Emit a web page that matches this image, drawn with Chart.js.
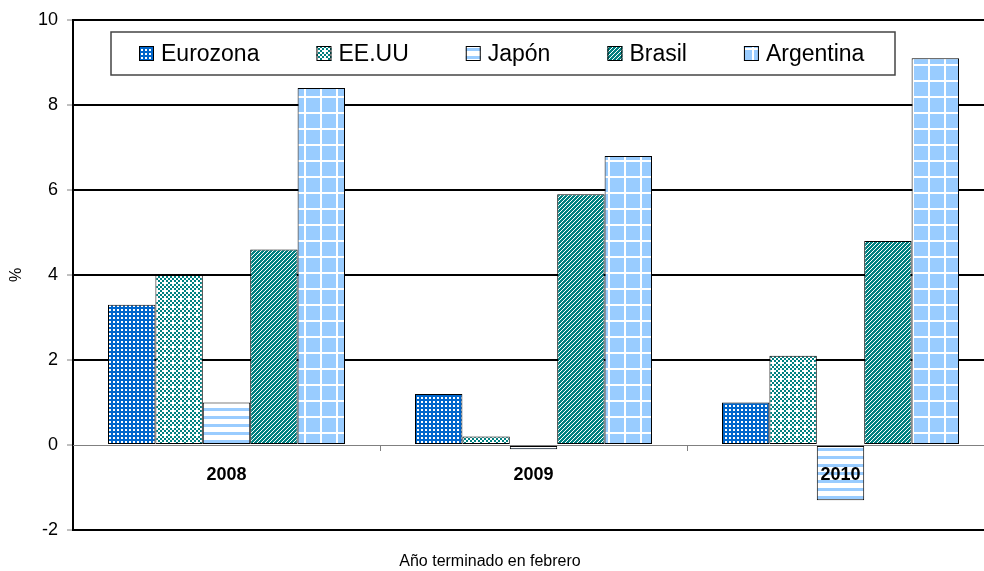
<!DOCTYPE html>
<html>
<head>
<meta charset="utf-8">
<script src="https://cdn.jsdelivr.net/npm/chart.js@4/dist/chart.umd.min.js"></script>
<style>
    html, body { margin: 0; padding: 0; overflow: hidden; background: #fff; }
    #wrap { width: 1010px; height: 571px; position: relative; }
</style>
</head>
<body>
<div id="wrap"><canvas id="inflacion"></canvas></div>
<script>
const years = ["2008", "2009", "2010"];
const eurozona = [3.3, 1.2, 1.0];
const eeuu = [4.0, 0.2, 2.1];
const japon = [1.0, -0.1, -1.3];
const brasil = [4.6, 5.9, 4.8];
const argentina = [8.4, 6.8, 9.1];
const yTicks = [-2, 0, 2, 4, 6, 8, 10];

const FONT = "'Liberation Sans', Arial, sans-serif";
const BLUE = "#0066CC";
const TEAL = "#008080";
const LIGHT = "#99CCFF";

function makePattern(size, draw) {
    const c = document.createElement("canvas");
    c.width = size;
    c.height = size;
    const g = c.getContext("2d");
    draw(g, size);
    return g.createPattern(c, "repeat");
}

// small white dots on blue
const dotsBlue = makePattern(4, function (g) {
    g.fillStyle = BLUE;
    g.fillRect(0, 0, 4, 4);
    g.fillStyle = "#fff";
    g.fillRect(1, 1, 2, 2);
});

// teal/white checker with a white plus every tile
const checkTeal = makePattern(8, function (g) {
    g.fillStyle = "#fff";
    g.fillRect(0, 0, 8, 8);
    g.fillStyle = TEAL;
    for (let i = 0; i < 4; i++) {
        for (let j = 0; j < 4; j++) {
            if ((i + j) % 2 === 1 && !(i === 2 && j === 1)) g.fillRect(i * 2, j * 2, 2, 2);
        }
    }
});

// light blue horizontal bands on white
const bandsLight = makePattern(8, function (g) {
    g.fillStyle = "#fff";
    g.fillRect(0, 0, 8, 8);
    g.fillStyle = LIGHT;
    g.fillRect(0, 0, 8, 3);
});

// thin white "/" diagonals on teal
const diagTeal = makePattern(4, function (g) {
    g.fillStyle = TEAL;
    g.fillRect(0, 0, 4, 4);
    g.fillStyle = "#fff";
    for (let k = 0; k < 4; k++) g.fillRect(3 - k, k, 1, 1);
});

// white grid on light blue
const gridLight = makePattern(16, function (g) {
    g.fillStyle = LIGHT;
    g.fillRect(0, 0, 16, 16);
    g.fillStyle = "#fff";
    g.fillRect(0, 0, 16, 2);
    g.fillRect(0, 0, 2, 16);
});

function series(label, data, fill) {
    return {
        label: label,
        data: data,
        backgroundColor: fill,
        borderColor: "#000",
        borderWidth: 1,
        borderSkipped: false,
        categoryPercentage: 0.772,
        barPercentage: 1.0
    };
}

// legend box inside the plot + x axis caption under the chart
const boxLegend = {
    id: "boxLegend",
    afterDraw: function (chart) {
        const ctx = chart.ctx;
        ctx.save();

        ctx.fillStyle = "#fff";
        ctx.fillRect(111, 32, 784, 43);
        ctx.strokeStyle = "#444";
        ctx.lineWidth = 1.5;
        ctx.strokeRect(111, 32, 784, 43);

        ctx.font = "23px " + FONT;
        ctx.textBaseline = "middle";
        ctx.textAlign = "left";
        let x = 139;
        chart.data.datasets.forEach(function (ds) {
            ctx.fillStyle = ds.backgroundColor;
            ctx.fillRect(x, 46, 15, 15);
            ctx.strokeStyle = "#000";
            ctx.lineWidth = 1;
            ctx.strokeRect(x + 0.5, 46.5, 14, 14);
            ctx.fillStyle = "#000";
            ctx.fillText(ds.label, x + 22, 55);
            x += 22 + ctx.measureText(ds.label).width + 57;
        });

        ctx.font = "16px " + FONT;
        ctx.textAlign = "center";
        ctx.fillText("Año terminado en febrero", 490, 562);
        ctx.restore();
    }
};

new Chart(document.getElementById("inflacion"), {
    type: "bar",
    data: {
        labels: years,
        datasets: [
            series("Eurozona", eurozona, dotsBlue),
            series("EE.UU", eeuu, checkTeal),
            series("Japón", japon, bandsLight),
            series("Brasil", brasil, diagTeal),
            series("Argentina", argentina, gridLight)
        ]
    },
    options: {
        responsive: true,
        maintainAspectRatio: false,
        animation: false,
        layout: { padding: { left: 0, top: 20, right: 16, bottom: 41 } },
        plugins: {
            legend: { display: false },
            tooltip: { enabled: false }
        },
        scales: {
            x: {
                type: "category",
                position: { y: 0 },
                offset: true,
                afterFit: function (scale) { scale.height = 0; },
                grid: {
                    offset: true,
                    drawOnChartArea: false,
                    drawTicks: true,
                    tickLength: 5,
                    tickColor: "#808080"
                },
                border: { display: true, color: "#808080", width: 1, z: 1 },
                ticks: {
                    z: 1,
                    color: "#000",
                    padding: 14,
                    font: { family: FONT, size: 18, weight: "bold" }
                }
            },
            y: {
                min: -2,
                max: 10,
                afterFit: function (scale) { scale.width = 73; },
                afterBuildTicks: function (scale) {
                    scale.ticks = yTicks.map(function (v) { return { value: v }; });
                },
                grid: {
                    color: function (c) { return c.tick && c.tick.value === 0 ? "rgba(0,0,0,0)" : "#000"; },
                    lineWidth: 2,
                    drawTicks: true,
                    tickLength: 6,
                    tickColor: "#808080",
                    tickWidth: 1
                },
                border: { display: true, color: "#000", width: 2 },
                ticks: {
                    color: "#000",
                    padding: 9,
                    font: { family: FONT, size: 18 }
                },
                title: {
                    display: true,
                    text: "%",
                    color: "#000",
                    padding: { top: 7, bottom: 0 },
                    font: { family: FONT, size: 16 }
                }
            }
        }
    },
    plugins: [boxLegend]
});
</script>
</body>
</html>
